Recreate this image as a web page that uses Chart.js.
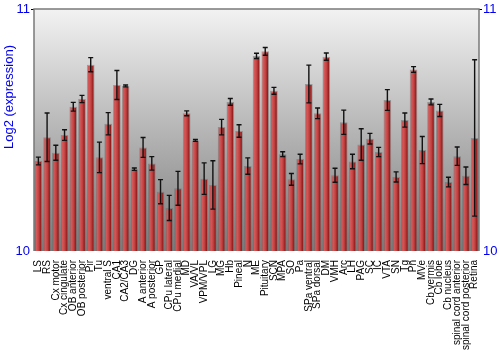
<!DOCTYPE html>
<html lang="en">
<head>
    <meta charset="UTF-8">
    <title>Log2 expression by region</title>
    <script src="https://cdn.jsdelivr.net/npm/chart.js"></script>
    <style>
        body { margin: 0; background: #fff; }
    </style>
</head>
<body>
    <canvas id="chart" width="500" height="350"></canvas>
    <script>
        const regions = ["LS", "RS", "Cx motor", "Cx cingulate", "OB anterior", "OB posterior", "Pir", "Tu",
            "ventral S", "CA1", "CA2/CA3", "DG", "A anterior", "A posterior", "GP", "CPu lateral", "CPu medial",
            "MD", "VA/VL", "VPM/VPL", "LG", "MG", "Hb", "Pineal", "N", "ME", "Pituitary", "SCN", "MPA", "SO",
            "Pa", "SPa ventral", "SPa dorsal", "DM", "VMH", "Arc", "LH", "PAG", "SC", "IC", "VTA", "SN", "Tg",
            "Pn", "MVe", "Cb vermis", "Cb lobe", "Cb nucleus", "spinal cord anterior", "spinal cord posterior",
            "Retina"];

        const expression = [10.372, 10.47, 10.406, 10.479, 10.596, 10.628, 10.77, 10.387,
            10.526, 10.686, 10.682, 10.338, 10.428, 10.362, 10.245, 10.178, 10.259,
            10.569, 10.457, 10.299, 10.273, 10.512, 10.616, 10.496, 10.351, 10.806, 10.825, 10.662, 10.4, 10.296,
            10.38, 10.69, 10.569, 10.803, 10.313, 10.532, 10.37, 10.44, 10.464, 10.409, 10.624, 10.306, 10.541,
            10.75, 10.417, 10.616, 10.581, 10.285, 10.392, 10.311,
            10.467];

        const errors = [0.016, 0.1, 0.031, 0.022, 0.018, 0.015, 0.029, 0.063,
            0.046, 0.06, 0.004, 0.005, 0.041, 0.028, 0.05, 0.052, 0.07,
            0.01, 0.004, 0.065, 0.1, 0.032, 0.014, 0.026, 0.034, 0.011, 0.016, 0.014, 0.01, 0.024,
            0.02, 0.078, 0.022, 0.015, 0.029, 0.05, 0.03, 0.065, 0.022, 0.019, 0.043, 0.021, 0.029,
            0.012, 0.056, 0.012, 0.025, 0.02, 0.038, 0.036,
            0.323];

        const yTicks = [10, 11];

        const blue = "#0000ee";
        const barPct = 0.88;

        function barFill(ctx) {
            const chart = ctx.chart;
            const xs = chart.scales.x;
            if (!xs || ctx.dataIndex === undefined || !chart.chartArea) return "#b83030";
            const cx = xs.getPixelForValue(ctx.dataIndex);
            const w = (xs.width / regions.length) * barPct;
            const g = chart.ctx.createLinearGradient(cx - w / 2, 0, cx + w / 2, 0);
            g.addColorStop(0, "#b83838");
            g.addColorStop(0.25, "#d65a5a");
            g.addColorStop(0.55, "#c24040");
            g.addColorStop(0.85, "#8c1818");
            g.addColorStop(1, "#a52626");
            return g;
        }

        const plotFrame = {
            id: "plotFrame",
            beforeDatasetsDraw(chart) {
                const { ctx, chartArea: a } = chart;
                const g = ctx.createLinearGradient(0, a.top, 0, a.bottom);
                g.addColorStop(0, "#f2f2f2");
                g.addColorStop(1, "#7a7a7a");
                ctx.save();
                ctx.fillStyle = g;
                ctx.fillRect(a.left, a.top, a.right - a.left, a.bottom - a.top);
                ctx.strokeStyle = "#7a7a7a";
                ctx.lineWidth = 1.5;
                ctx.beginPath();
                ctx.moveTo(a.left, a.bottom);
                ctx.lineTo(a.left, a.top);
                ctx.lineTo(a.right, a.top);
                ctx.lineTo(a.right, a.bottom);
                ctx.stroke();
                ctx.restore();
            },
            afterDatasetsDraw(chart) {
                const { ctx } = chart;
                const meta = chart.getDatasetMeta(0);
                const y = chart.scales.y;
                ctx.save();
                ctx.strokeStyle = "#111";
                ctx.lineWidth = 1.4;
                meta.data.forEach((bar, i) => {
                    const top = y.getPixelForValue(expression[i] + errors[i]);
                    const bot = y.getPixelForValue(expression[i] - errors[i]);
                    ctx.beginPath();
                    ctx.moveTo(bar.x, top);
                    ctx.lineTo(bar.x, bot);
                    ctx.moveTo(bar.x - 2.5, top);
                    ctx.lineTo(bar.x + 2.5, top);
                    ctx.moveTo(bar.x - 2.5, bot);
                    ctx.lineTo(bar.x + 2.5, bot);
                    ctx.stroke();
                });
                ctx.restore();
            },
            afterDraw(chart) {
                const { ctx } = chart;
                ctx.save();
                ctx.translate(9, 97);
                ctx.rotate(-Math.PI / 2);
                ctx.fillStyle = blue;
                ctx.font = "13px 'Liberation Sans', Arial, sans-serif";
                ctx.textAlign = "center";
                ctx.textBaseline = "middle";
                ctx.fillText("Log2 (expression)", 0, 0);
                ctx.restore();
            }
        };

        const tickColor = c => (c.tick && c.tick.value === 11 ? "#000" : "rgba(0,0,0,0)");

        new Chart(document.getElementById("chart"), {
            type: "bar",
            data: {
                labels: regions,
                datasets: [{
                    data: expression,
                    backgroundColor: barFill,
                    borderColor: "rgba(110,110,110,0.55)",
                    borderWidth: 1,
                    barPercentage: barPct,
                    categoryPercentage: 1
                }]
            },
            options: {
                responsive: false,
                devicePixelRatio: 1,
                animation: false,
                layout: { padding: { top: 9 } },
                plugins: { legend: { display: false }, tooltip: { enabled: false } },
                scales: {
                    x: {
                        grid: { display: false },
                        border: { display: false },
                        ticks: {
                            autoSkip: false,
                            maxRotation: 90,
                            minRotation: 90,
                            padding: 1,
                            color: "#000",
                            font: { family: "'Liberation Sans', Arial, sans-serif", size: 10 }
                        },
                        afterFit(s) { s.height = 99; }
                    },
                    y: {
                        min: 10,
                        max: 11,
                        afterBuildTicks(s) { s.ticks = yTicks.map(v => ({ value: v })); },
                        grid: { drawOnChartArea: false, tickLength: 3, color: tickColor },
                        border: { display: false },
                        ticks: {
                            padding: 1,
                            color: blue,
                            font: { family: "'Liberation Sans', Arial, sans-serif", size: 13 }
                        },
                        afterFit(s) { s.width = 34; }
                    },
                    y2: {
                        position: "right",
                        min: 10,
                        max: 11,
                        afterBuildTicks(s) { s.ticks = yTicks.map(v => ({ value: v })); },
                        grid: { drawOnChartArea: false, tickLength: 3, color: tickColor },
                        border: { display: false },
                        ticks: {
                            padding: 1,
                            color: blue,
                            font: { family: "'Liberation Sans', Arial, sans-serif", size: 13 }
                        },
                        afterFit(s) { s.width = 21; }
                    }
                }
            },
            plugins: [plotFrame]
        });
    </script>
</body>
</html>
